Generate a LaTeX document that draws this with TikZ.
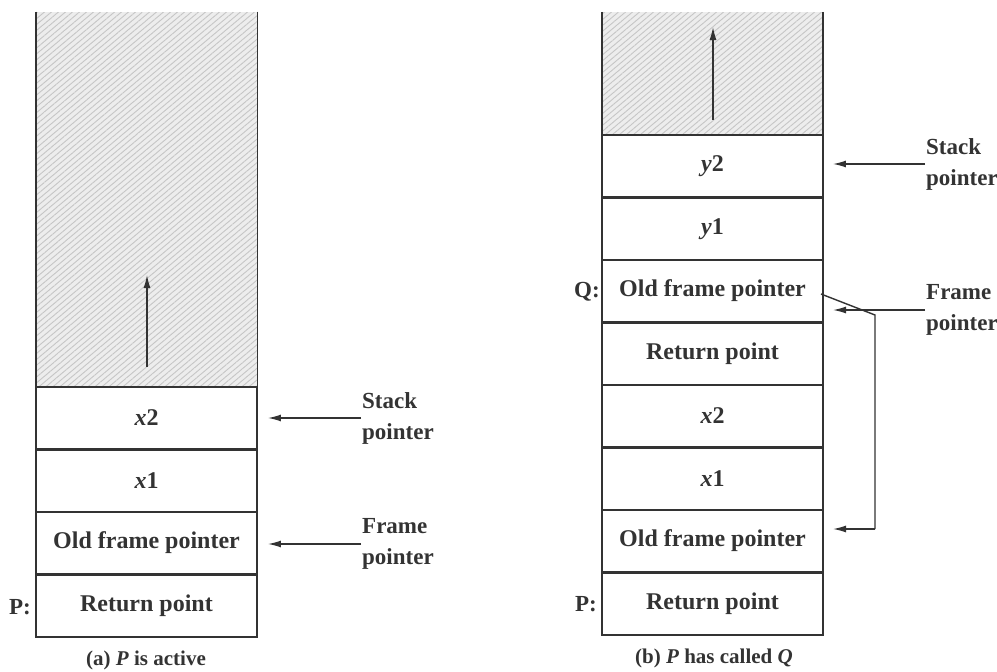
\documentclass[tikz,border=0pt]{standalone}
\usepackage{fontspec}
\setmainfont{Liberation Serif}
\usetikzlibrary{arrows.meta,patterns.meta}
\definecolor{ink}{HTML}{333333}
\begin{document}
\begin{tikzpicture}[x=1pt,y=-1pt,
  cell/.style={draw=ink, line width=1.9pt, minimum width=221pt, minimum height=62.5pt,
     inner sep=0pt, text=ink, font=\fontsize{24}{28}\selectfont\bfseries},
  hatch/.style={minimum width=221pt, inner sep=0pt, preaction={fill=gray!14},
     pattern={Lines[angle=40,distance=4.5pt,line width=0.9pt]}, pattern color=gray!45},
  side/.style={draw=ink, line width=1.9pt},
  lbl/.style={text=ink, font=\fontsize{23}{31}\selectfont\bfseries, align=left, inner sep=1pt},
  tag/.style={text=ink, font=\fontsize{23}{27}\selectfont\bfseries, inner sep=0pt},
  captxt/.style={text=ink, font=\fontsize{21}{25}\selectfont\bfseries, inner sep=0pt},
  ptr/.style={draw=ink, line width=1.4pt, -{Latex[length=13pt,width=7pt]}},
  link/.style={draw=ink, line width=1.4pt}]
\useasboundingbox (0,0) rectangle (997,672);

% ---------- (a) ----------
\node[hatch, minimum height=375pt] (lh) at (146.5,199.5) {};
\draw[side] (lh.north west) -- (lh.south west);
\draw[side] (lh.north east) -- (lh.south east);
\node[cell] (lx2) at (146.5,418) {\textit{x}2};
\node[cell] (lx1) at (146.5,481) {\textit{x}1};
\node[cell] (lofp) at (146.5,543) {Old frame pointer};
\node[cell] (lrp) at (146.5,606) {Return point};
\coordinate (lupa) at (147,367);
\coordinate (lupb) at (147,275);
\draw[ptr] (lupa) -- (lupb);
\node[lbl, anchor=west] (lsp) at (361,418) {Stack\\pointer};
\node[lbl, anchor=west] (lfp) at (361,544) {Frame\\pointer};
\draw[ptr] (lsp.west) -- ([xshift=10pt]lx2.east |- lsp.west);
\draw[ptr] (lfp.west) -- ([xshift=10pt]lofp.east |- lfp.west);
\node[tag] (lP) at (20,607) {P:};
\node[captxt] (capa) at (146,660) {(a) \textit{P} is active};

% ---------- (b) ----------
\node[hatch, minimum height=123pt] (rh) at (712.5,73.5) {};
\draw[side] (rh.north west) -- (rh.south west);
\draw[side] (rh.north east) -- (rh.south east);
\node[cell] (ry2) at (712.5,166) {\textit{y}2};
\node[cell] (ry1) at (712.5,229) {\textit{y}1};
\node[cell] (rqofp) at (712.5,291) {Old frame pointer};
\node[cell] (rqrp) at (712.5,354) {Return point};
\node[cell] (rx2) at (712.5,416) {\textit{x}2};
\node[cell] (rx1) at (712.5,479) {\textit{x}1};
\node[cell] (rpofp) at (712.5,541) {Old frame pointer};
\node[cell] (rprp) at (712.5,604) {Return point};
\coordinate (rupa) at (713,120);
\coordinate (rupb) at (713,27);
\draw[ptr] (rupa) -- (rupb);
\node[lbl, anchor=west] (rsp) at (925,164) {Stack\\pointer};
\node[lbl, anchor=west] (rfp) at (925,310) {Frame\\pointer};
\draw[ptr] (rsp.west) -- ([xshift=9pt]ry2.east |- rsp.west);
\coordinate (fptip) at (833,310);
\draw[ptr] (rfp.west) -- (fptip);
\coordinate (lk0) at (821,294);
\coordinate (lk1) at (875,315);
\coordinate (lk2) at (875,529);
\coordinate (lk3) at (833,529);
\draw[link] (lk0) -- (lk1) -- (lk2);
\draw[ptr] (lk2) -- (lk3);
\node[tag] (rQ) at (587,292) {Q:};
\node[tag] (rP) at (586,604) {P:};
\node[captxt] (capb) at (714,658) {(b) \textit{P} has called \textit{Q}};
\end{tikzpicture}
\end{document}
